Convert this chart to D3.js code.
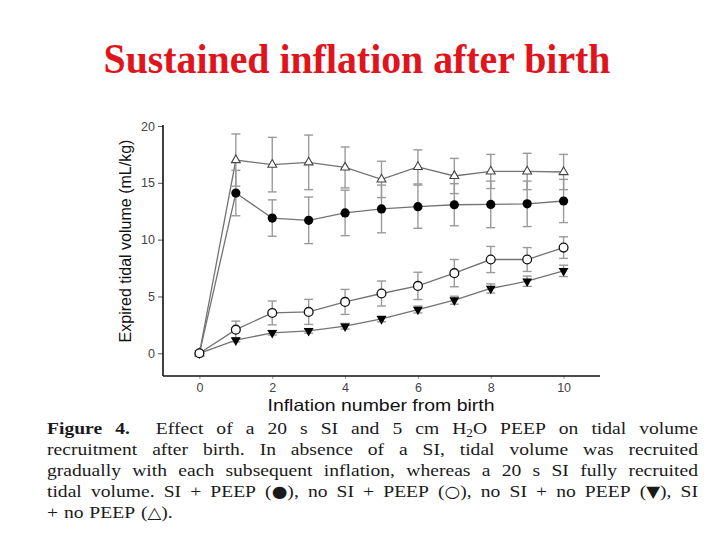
<!DOCTYPE html>
<html><head><meta charset="utf-8">
<script src="https://cdn.jsdelivr.net/npm/d3@7"></script>
<style>body{margin:0;background:#fff}</style>
</head><body>
<svg id="c" width="720" height="540" xmlns="http://www.w3.org/2000/svg"></svg>
<script>
// ---- data ----
const inflations = [0,1,2,3,4,5,6,7,8,9,10];
const siPeep       = [0,14.1,11.9,11.7,12.35,12.7,12.9,13.07,13.1,13.15,13.4];
const siPeepSD     = [0,2.0,1.6,2.05,2.0,2.1,1.9,1.85,2.05,2.0,1.9];
const noSiPeep     = [0,2.08,3.55,3.64,4.52,5.26,5.93,7.05,8.25,8.25,9.3];
const noSiPeepSD   = [0,0.75,1.05,1.1,1.1,1.1,1.2,1.2,1.15,1.05,0.95];
const noSiNoPeep   = [0,1.15,1.8,1.97,2.38,3.02,3.85,4.67,5.7,6.34,7.25];
const noSiNoPeepSD = [0,0.15,0.2,0.2,0.25,0.25,0.3,0.35,0.4,0.45,0.5];
const siNoPeep     = [0,17.0,16.6,16.8,16.35,15.3,16.4,15.6,16.0,16.0,15.95];
const siNoPeepSD   = [0,2.3,2.4,2.4,1.8,1.6,1.5,1.55,1.5,1.6,1.55];
const xTicks = [0,2,4,6,8,10];
const yTicks = [0,5,10,15,20];
const titleText = "Sustained inflation after birth";
const xLabel = "Inflation number from birth";
const yLabel = "Expired tidal volume (mL/kg)";
const captionLines = [
  "**Figure** **4.**  Effect of a 20 s SI and 5 cm H_2O PEEP on tidal volume",
  "recruitment after birth. In absence of a SI, tidal volume was recruited",
  "gradually with each subsequent inflation, whereas a 20 s SI fully recruited",
  "tidal volume. SI + PEEP (\u25CF), no SI + PEEP (\u25CB), no SI + no PEEP (\u25BC), SI",
  "+ no PEEP (\u25B3)."
];

// ---- layout ----
const svg = d3.select("#c");
const x = d3.scaleLinear().domain([-1, 11]).range([163, 600]);
const y = d3.scaleLinear().domain([-2, 20]).range([376, 126]);

// title
svg.append("text")
  .attr("x", 357).attr("y", 73)
  .attr("text-anchor", "middle")
  .attr("font-family", "'Liberation Serif','Times New Roman',serif")
  .attr("font-weight", "bold")
  .attr("font-size", 42)
  .attr("textLength", 507).attr("lengthAdjust", "spacingAndGlyphs")
  .attr("fill", "#e0141c")
  .text(titleText);

// axes
const axisFont = "'Liberation Sans',Arial,Helvetica,sans-serif";
const gY = svg.append("g").attr("transform", `translate(${x(-1)},0)`)
  .call(d3.axisLeft(y).tickValues(yTicks).tickSize(5).tickPadding(3).tickSizeOuter(0));
gY.select(".domain").remove();
gY.append("line").attr("x1",0).attr("x2",0).attr("y1",y(20)-1).attr("y2",y(-2)).attr("stroke","#111").attr("stroke-width",1.6);
gY.selectAll(".tick line").attr("stroke","#555");
gY.selectAll(".tick text").attr("font-family", axisFont).attr("font-size", 12.5).attr("fill","#444");

const gX = svg.append("g").attr("transform", `translate(0,${y(-2)})`)
  .call(d3.axisBottom(x).tickValues(xTicks).tickSize(3).tickPadding(4).tickSizeOuter(0));
gX.select(".domain").remove();
gX.append("line").attr("x1",x(-1)).attr("x2",x(11)).attr("y1",0).attr("y2",0).attr("stroke","#111").attr("stroke-width",1.6);
gX.selectAll(".tick line").attr("stroke","#999");
gX.selectAll(".tick text").attr("font-family", axisFont).attr("font-size", 12.5).attr("fill","#444");

svg.append("text")
  .attr("x", 381).attr("y", 411).attr("text-anchor","middle")
  .attr("font-family", axisFont).attr("font-size", 16.5).attr("fill","#111")
  .attr("textLength", 227).attr("lengthAdjust","spacingAndGlyphs")
  .text(xLabel);
svg.append("text")
  .attr("transform","translate(131,241) rotate(-90)").attr("text-anchor","middle")
  .attr("font-family", axisFont).attr("font-size", 16).attr("fill","#111")
  .text(yLabel);

// series
const series = [
  {vals: siPeep,     sd: siPeepSD,     marker: "fcircle"},
  {vals: siNoPeep,   sd: siNoPeepSD,   marker: "otri"},
  {vals: noSiNoPeep, sd: noSiNoPeepSD, marker: "ftri"},
  {vals: noSiPeep,   sd: noSiPeepSD,   marker: "ocircle"}
];
const line = d3.line().x(d => x(d[0])).y(d => y(d[1]));
const gLines = svg.append("g"), gErr = svg.append("g"), gMk = svg.append("g");
series.forEach(s => {
  const pts = inflations.map((v,i) => [v, s.vals[i], s.sd[i]]);
  gLines.append("path").datum(pts).attr("d", line)
    .attr("fill","none").attr("stroke","#737373").attr("stroke-width",1.3);
  pts.filter(p => p[2] > 0).forEach(p => {
    const cx = x(p[0]), y1 = y(p[1]-p[2]), y2 = y(p[1]+p[2]);
    const g = gErr.append("g").attr("stroke","#9a9a9a").attr("stroke-width",1.4);
    g.append("line").attr("x1",cx).attr("x2",cx).attr("y1",y1).attr("y2",y2);
    g.append("line").attr("x1",cx-4.5).attr("x2",cx+4.5).attr("y1",y1).attr("y2",y1);
    g.append("line").attr("x1",cx-4.5).attr("x2",cx+4.5).attr("y1",y2).attr("y2",y2);
  });
  pts.forEach(p => {
    const cx = x(p[0]), cy = y(p[1]);
    if (s.marker === "fcircle") {
      gMk.append("circle").attr("cx",cx).attr("cy",cy).attr("r",4.6).attr("fill","#000");
    } else if (s.marker === "ocircle") {
      gMk.append("circle").attr("cx",cx).attr("cy",cy).attr("r",4.4).attr("fill","#fff").attr("stroke","#111").attr("stroke-width",1.3);
    } else if (s.marker === "otri") {
      gMk.append("path").attr("d", d3.symbol().type(d3.symbolTriangle).size(34)())
        .attr("transform",`translate(${cx},${cy})`).attr("fill","#fff").attr("stroke","#444").attr("stroke-width",1.1);
    } else {
      gMk.append("path").attr("d", d3.symbol().type(d3.symbolTriangle).size(42)())
        .attr("transform",`translate(${cx},${cy}) rotate(180)`).attr("fill","#000");
    }
  });
});

// caption (justified, slightly stretched horizontally like the source scan)
const capFont = "'Liberation Serif','Times New Roman',serif";
const symFont = "'DejaVu Sans',sans-serif";
const capLeft = 47, capRight = 698, capTop = 434, capLead = 21, capSize = 17.5, capStretch = 1.12;
const gCap = svg.append("g").attr("transform", `scale(${capStretch},1)`);
function addRun(t, str) {
  // split geometric symbols into their own tspans with a font that draws them full size
  const parts = str.split(/([\u25A0-\u25FF])/).filter(d => d !== "");
  parts.forEach(pt => {
    const ts = t.append("tspan").text(pt);
    if (/[\u25A0-\u25FF]/.test(pt)) ts.attr("font-family", symFont).attr("font-size", capSize * 0.92);
  });
}
captionLines.forEach((ln, li) => {
  const raw = ln.split(" ");
  const words = []; const weights = []; let w = 1;
  raw.forEach(tok => {
    if (tok === "") { w += 1; return; }
    if (words.length) weights.push(w);
    w = 1;
    words.push(tok);
  });
  const by = capTop + li * capLead;
  const els = words.map(tok => {
    const t = gCap.append("text").attr("y", by).attr("font-family", capFont)
      .attr("font-size", capSize).attr("fill","#1a1a1a");
    let bold = false, s = tok;
    if (s.startsWith("**") && s.endsWith("**")) { bold = true; s = s.slice(2,-2); }
    if (bold) t.attr("font-weight","bold");
    const m = s.match(/^(.*)_(\d)(.*)$/);
    if (m) {
      t.append("tspan").text(m[1]);
      t.append("tspan").attr("dy",3.5).attr("font-size",capSize*0.68).text(m[2]);
      t.append("tspan").attr("dy",-3.5).text(m[3]);
    } else addRun(t, s);
    return t;
  });
  const widths = els.map(e => e.node().getComputedTextLength());
  const total = d3.sum(widths);
  const last = li === captionLines.length - 1;
  const wsum = d3.sum(weights);
  const L = capLeft / capStretch, R = capRight / capStretch;
  const unit = last ? capSize * 0.3 : (R - L - total) / wsum;
  let cx = L;
  els.forEach((e, i) => {
    e.attr("x", cx);
    cx += widths[i] + (i < weights.length ? weights[i] * unit : 0);
  });
});
</script>
</body></html>
